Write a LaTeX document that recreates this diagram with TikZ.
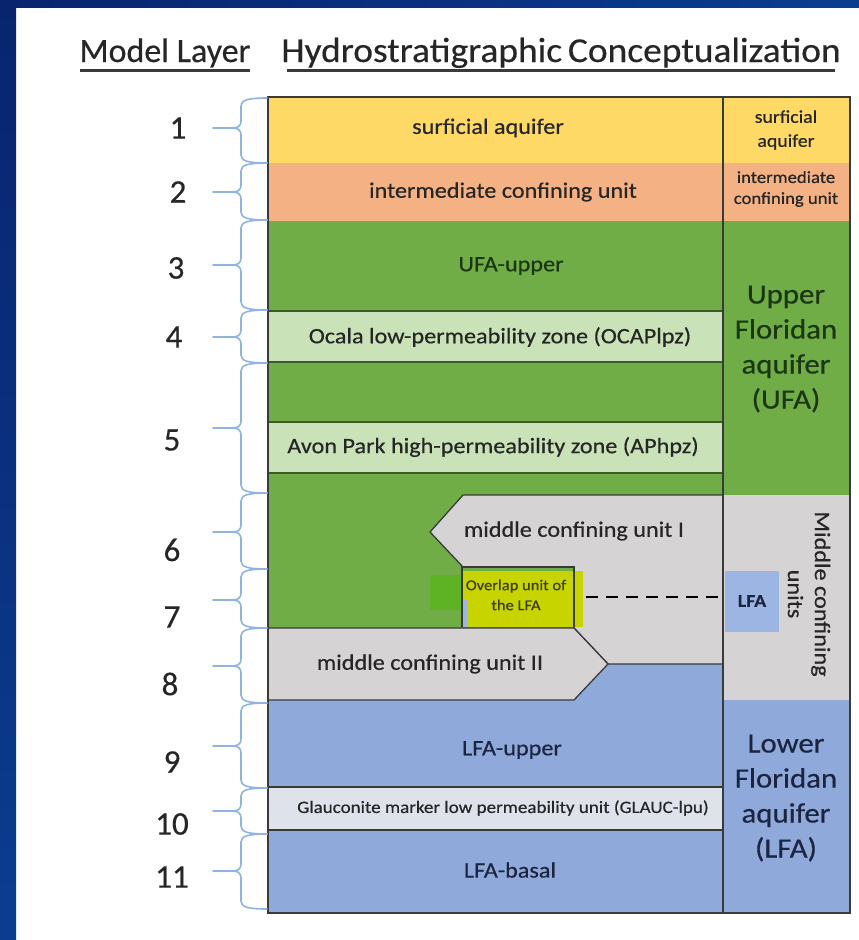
\documentclass[tikz,border=0pt]{standalone}
\usepackage{fontspec}
\setmainfont{Carlito}
\newfontfamily\tablefont{Carlito}[FakeStretch=1.1, FakeBold=0.5]
\newfontfamily\headfont{Carlito}[FakeBold=0.4]
\newfontfamily\headwidefont{Carlito}[FakeStretch=1.07, FakeBold=0.4]
\definecolor{frameA}{HTML}{08246F}
\definecolor{frameB}{HTML}{0B3D8F}
\definecolor{surf}{HTML}{FFD966}
\definecolor{icu}{HTML}{F4B183}
\definecolor{ufa}{HTML}{70AD47}
\definecolor{ufalt}{HTML}{C9E2B8}
\definecolor{mcu}{HTML}{D5D3D3}
\definecolor{lfa}{HTML}{8FA9DB}
\definecolor{glauc}{HTML}{DEE2EB}
\definecolor{olap}{HTML}{C8D400}
\definecolor{olapgreen}{HTML}{5DB324}
\definecolor{lfabox}{HTML}{9DB5E3}
\definecolor{bracec}{HTML}{8DB4E2}
\definecolor{edge}{HTML}{3A3A3A}
\definecolor{edgegreen}{HTML}{3B5A2A}
\definecolor{txt}{HTML}{262626}
\definecolor{txtgreen}{HTML}{1C3612}
\definecolor{txtblue}{HTML}{1C2540}
\newcommand\layerbrace[3]{%
  \draw[brace line] (267,#1) .. controls (248,#1) and (241,{#1+2}) .. (241,{#1+8})
    -- (241,{#3-7}) .. controls (241,{#3-2}) and (238,#3) .. (232,#3)
    .. controls (238,#3) and (241,{#3+2}) .. (241,{#3+7})
    -- (241,{#2-8}) .. controls (241,{#2-2}) and (248,#2) .. (267,#2);
  \draw[brace line] (213,#3) -- (232,#3);
}
\begin{document}
\begin{tikzpicture}[x=1pt,y=-1pt,
  brace line/.style={draw=bracec, line width=1.6pt, line cap=round},
  layer line/.style={draw=edge, line width=1.3pt},
  green line/.style={draw=edgegreen, line width=1.4pt},
  unit/.style={font=\tablefont\fontsize{22}{26}\selectfont, text=txt, inner sep=0pt},
  side/.style={align=center, text=txt, inner sep=0pt},
  layer num/.style={font=\headfont\fontsize{33}{35}\selectfont, text=txt, inner sep=0pt},
  heading/.style={text=txt, anchor=base, inner sep=0pt},
  underline/.style={draw=edge, line width=3pt}]
\useasboundingbox (0,0) rectangle (859,940);
% slide background
\fill[white] (0,0) rectangle (859,940);
\shade[left color=frameA, right color=frameB] (0,0) rectangle (859,7);
\shade[top color=frameA, bottom color=frameB] (0,0) rectangle (16,940);

% headings
\node[heading, font=\headfont\fontsize{34}{38}\selectfont] (hmodel) at (165,62) {Model Layer};
\node[heading, font=\headwidefont\fontsize{35}{38}\selectfont] (hconc) at (561,62) {Hydrostratigraphic\,Conceptualization};
\draw[underline] (80,70) -- (250,70);
\draw[underline] (287,70) -- (835,70);

% ---- left column: model layers ----
\fill[surf] (268,97) rectangle (723,163);
\fill[icu]  (268,163) rectangle (723,221);
\fill[ufa]  (268,221) rectangle (723,628);
\fill[ufalt] (268,311) rectangle (723,362);
\fill[ufalt] (268,422) rectangle (723,473);
\fill[lfa]  (268,628) rectangle (723,787);
\fill[glauc] (268,787) rectangle (723,830);
\fill[lfa]  (268,830) rectangle (723,913);
\draw[green line] (268,311) -- (723,311);
\draw[green line] (268,362) -- (723,362);
\draw[green line] (268,422) -- (723,422);
\draw[green line] (268,473) -- (723,473);
\draw[layer line] (268,787) -- (723,787);
\draw[layer line] (268,830) -- (723,830);

% middle confining unit I
\filldraw[fill=mcu, layer line] (463,495) -- (723,495) -- (723,664) -- (608,664)
  -- (574,628) -- (574,567) -- (463,567) -- (430,532) -- cycle;
% overlap unit of the LFA
\fill[olapgreen] (430,575) rectangle (462,610);
\fill[olap] (462,571) rectangle (583,627);
\fill[lfabox] (461,600) rectangle (467,627);
\draw[layer line] (462,627) -- (462,567) -- (574,567) -- (574,627);
\draw[dashed, line width=2.6pt, dash pattern=on 12pt off 8pt] (586,597) -- (722,597);
% middle confining unit II
\filldraw[fill=mcu, layer line] (268,628) -- (574,628) -- (608,664) -- (574,700) -- (268,700) -- cycle;

% ---- right column: hydrogeologic units ----
\fill[surf] (723,97) rectangle (850,163);
\fill[icu]  (723,163) rectangle (850,221);
\fill[ufa]  (723,221) rectangle (850,495);
\fill[mcu]  (723,495) rectangle (850,700);
\fill[lfa]  (723,700) rectangle (850,913);
\fill[lfabox] (725,571) rectangle (779,632);

% frame
\draw[layer line] (723,97) -- (723,913);
\draw[layer line] (268,97) rectangle (850,913);

% unit labels
\node[unit] (surfL) at (488,128) {surficial aquifer};
\node[unit] (icuL) at (503,192) {intermediate confining unit};
\node[unit, text=txtgreen] (ufaupL) at (511,266) {UFA-upper};
\node[unit] (ocalaL) at (500,337) {Ocala low-permeability zone (OCAPlpz)};
\node[unit] (avonL) at (493,447) {Avon Park high-permeability zone (APhpz)};
\node[unit] (mcuIL) at (574,531) {middle confining unit I};
\node[unit, font=\tablefont\fontsize{15}{20}\selectfont, text=black!70!olap, align=center] (olapL) at (516,595) {Overlap unit of\\the LFA};
\node[unit] (mcuIIL) at (430,664) {middle confining unit II};
\node[unit, text=txtblue] (lfaupL) at (512,750) {LFA-upper};
\node[unit, font=\tablefont\fontsize{17.3}{20}\selectfont] (glaucL) at (503,808) {Glauconite marker low permeability unit (GLAUC-lpu)};
\node[unit, text=txtblue] (lfabL) at (510,870) {LFA-basal};

% side labels
\node[side, font=\tablefont\fontsize{18}{24}\selectfont] (sSurf) at (786,130) {surficial\\aquifer};
\node[side, font=\tablefont\fontsize{17}{21}\selectfont] (sIcu) at (786,189) {intermediate\\confining unit};
\node[side, font=\tablefont\fontsize{28}{35}\selectfont, text=txtgreen] (sUfa) at (786,349) {Upper\\Floridan\\aquifer\\(UFA)};
\node[side, font=\tablefont\fontsize{22}{27}\selectfont, rotate=-90] (sMcu) at (809,594) {Middle confining\\units};
\node[side, font=\tablefont\fontsize{18}{20}\selectfont\bfseries, text=txtblue] (sLfaBox) at (752,601) {LFA};
\node[side, font=\tablefont\fontsize{28}{35}\selectfont, text=txtblue] (sLfa) at (786,798) {Lower\\Floridan\\aquifer\\(LFA)};

% model layer braces: top, bottom, tip
\layerbrace{98}{163}{128}
\layerbrace{163}{220}{192}
\layerbrace{220}{310}{265}
\layerbrace{310}{363}{337}
\layerbrace{363}{493}{428}
\layerbrace{493}{569}{532}
\layerbrace{569}{628}{600}
\layerbrace{628}{703}{666}
\layerbrace{703}{788}{746}
\layerbrace{788}{834}{811}
\layerbrace{834}{909}{871}

% model layer numbers
\node[layer num] (n1) at (178,128) {1};
\node[layer num] (n2) at (178,192) {2};
\node[layer num] (n3) at (176,268) {3};
\node[layer num] (n4) at (174,337) {4};
\node[layer num] (n5) at (172,440) {5};
\node[layer num] (n6) at (172,550) {6};
\node[layer num] (n7) at (172,617) {7};
\node[layer num] (n8) at (170,684) {8};
\node[layer num] (n9) at (172,762) {9};
\node[layer num] (n10) at (172,824) {10};
\node[layer num] (n11) at (172,877) {11};
\end{tikzpicture}
\end{document}
